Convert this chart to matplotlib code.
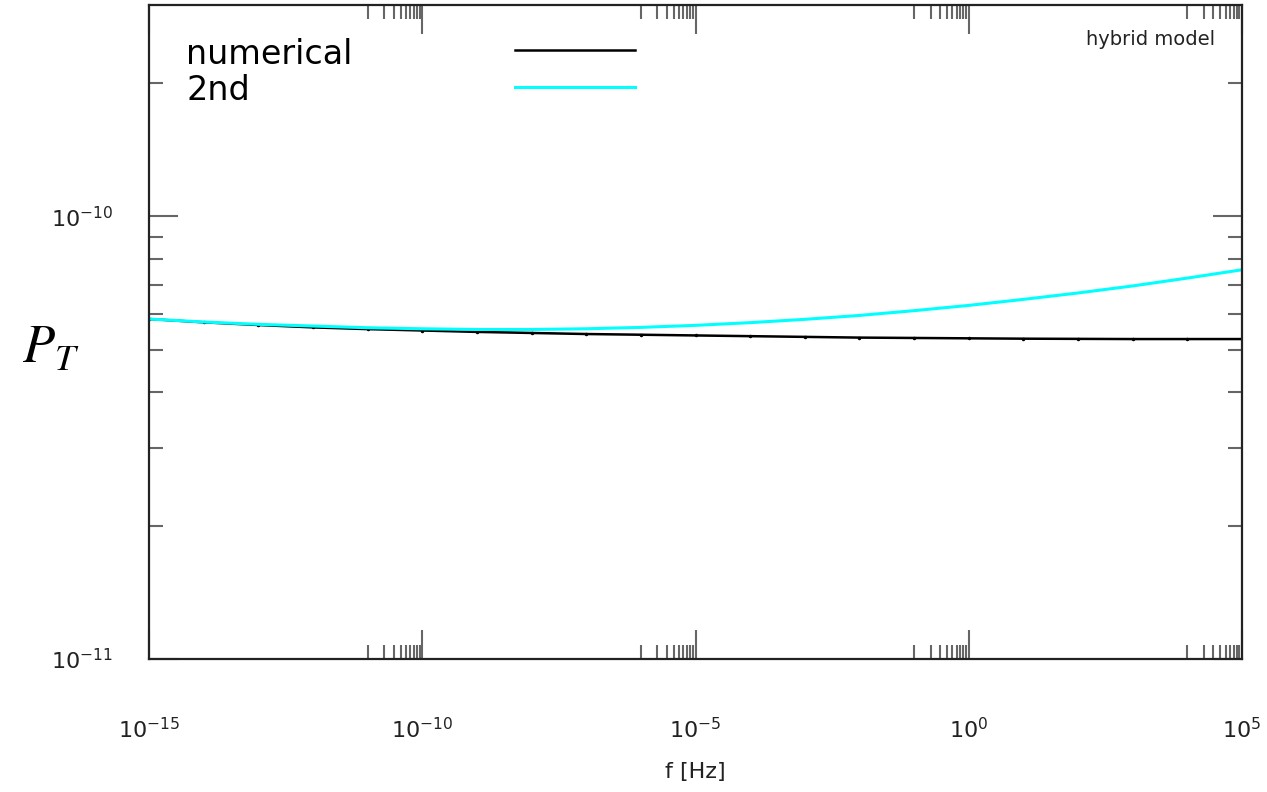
import numpy as np
import matplotlib
matplotlib.use('Agg')
import matplotlib.pyplot as plt
from matplotlib.ticker import FixedLocator, NullFormatter

# frequency grid [Hz], one point per decade
log_f = [-15, -14, -13, -12, -11, -10, -9, -8, -7, -6, -5,
         -4, -3, -2, -1, 0, 1, 2, 3, 4, 5]
freq = [10.0 ** k for k in log_f]

# tensor power spectrum (units of 1e-11)
p_numerical = [5.86, 5.76, 5.68, 5.61, 5.56, 5.52, 5.48, 5.45, 5.42, 5.40, 5.38,
               5.36, 5.34, 5.32, 5.31, 5.30, 5.29, 5.285, 5.28, 5.28, 5.28]
p_2nd = [5.86, 5.77, 5.70, 5.65, 5.60, 5.57, 5.55, 5.55, 5.57, 5.61, 5.67,
         5.75, 5.85, 5.97, 6.12, 6.29, 6.49, 6.71, 6.96, 7.25, 7.57]

labels = ['numerical', '2nd']
x_major = [1e-15, 1e-10, 1e-5, 1e0, 1e5]
x_major_labels = ['$10^{-15}$', '$10^{-10}$', '$10^{-5}$', '$10^{0}$', '$10^{5}$']
y_major = [1e-11, 1e-10]
y_major_labels = ['$10^{-11}$', '$10^{-10}$']

plt.rcParams['mathtext.default'] = 'regular'
plt.rcParams['font.family'] = ['DejaVu Sans']

fig = plt.figure(figsize=(12.67, 7.92), dpi=100)
ax = fig.add_axes([149 / 1267, 1 - 659 / 792, 1093 / 1267, 654 / 792])

num = np.array(p_numerical) * 1e-11
sec = np.array(p_2nd) * 1e-11
ax.plot(freq, num, color='black', lw=1.8, marker='.', ms=3)
ax.plot(freq, sec, color='cyan', lw=2.2)

ax.set_xscale('log')
ax.set_yscale('log')
ax.set_xlim(1e-15, 1e5)
ax.set_ylim(1e-11, 3e-10)

ax.xaxis.set_major_locator(FixedLocator(x_major))
ax.set_xticklabels(x_major_labels)
ax.xaxis.set_minor_locator(FixedLocator(
    [k * 10.0 ** m for m in (-11, -6, -1, 4) for k in range(1, 10)]))
ax.xaxis.set_minor_formatter(NullFormatter())

ax.yaxis.set_major_locator(FixedLocator(y_major))
ax.set_yticklabels(y_major_labels)
ax.yaxis.set_minor_locator(FixedLocator(
    [k * 1e-11 for k in range(2, 10)] + [2e-10]))
ax.yaxis.set_minor_formatter(NullFormatter())

ax.tick_params(which='both', direction='in', top=True, right=True,
               color='#666666', width=1.5, labelsize=16, labelcolor='#222222')
ax.tick_params(which='major', length=21)
ax.tick_params(which='minor', length=10)
ax.tick_params(axis='x', which='major', pad=42)
ax.tick_params(axis='y', which='major', pad=26)

for s in ax.spines.values():
    s.set_linewidth(1.6)
    s.set_color('#222222')

ax.set_xlabel('f [Hz]', fontsize=16, color='#222222', labelpad=14)
fig.text(22 / 1267, 1 - 347 / 792, r'$\mathit{P}_{\mathit{T}}$', fontsize=38,
         ha='left', va='center', math_fontfamily='stix')

# key, gnuplot style: labels on the left, samples further right
ax.text(0.034, 0.925, labels[0], transform=ax.transAxes, fontsize=24,
        ha='left', va='center')
ax.text(0.034, 0.870, labels[1], transform=ax.transAxes, fontsize=24,
        ha='left', va='center')
ax.plot([0.335, 0.445], [0.931, 0.931], color='black', lw=1.8, transform=ax.transAxes)
ax.plot([0.335, 0.445], [0.8746, 0.8746], color='cyan', lw=2.2, transform=ax.transAxes)

ax.text(0.975, 0.947, 'hybrid model', transform=ax.transAxes, fontsize=14,
        ha='right', va='center', color='#222222')

fig.savefig('out.png', dpi=100)
